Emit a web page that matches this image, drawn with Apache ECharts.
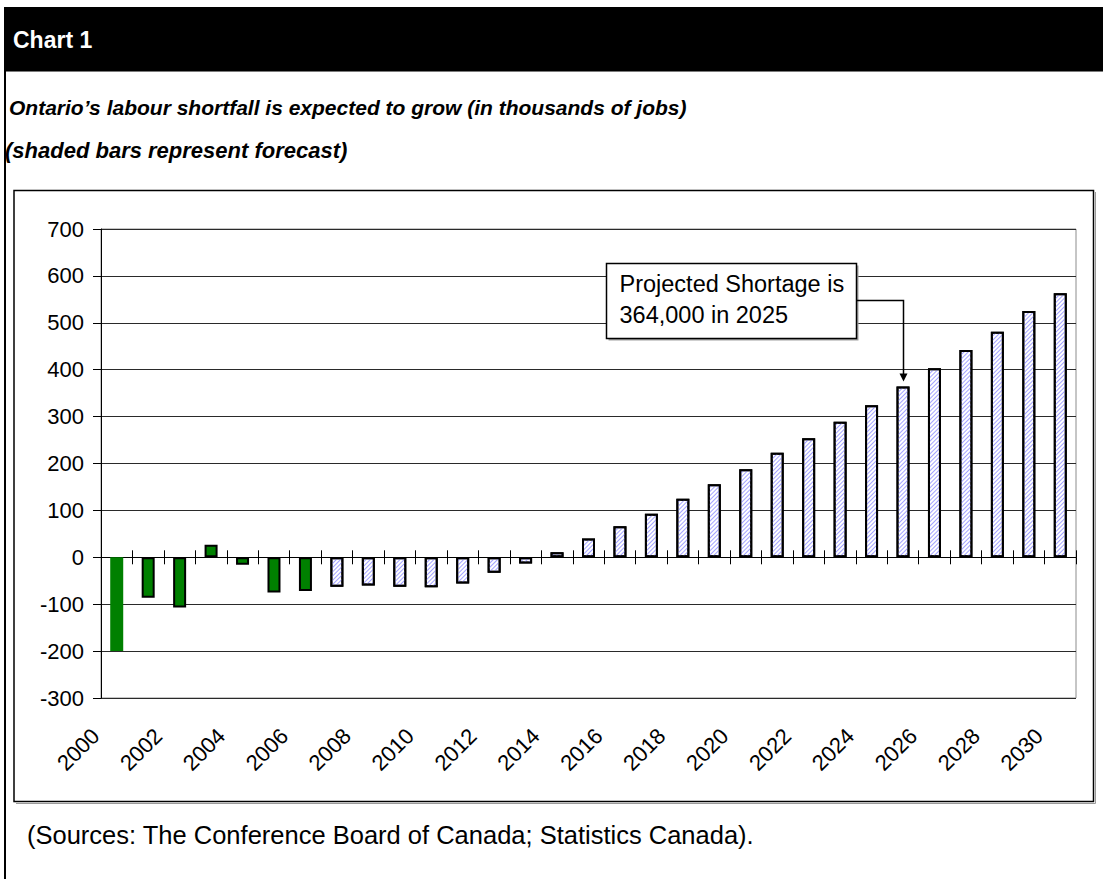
<!DOCTYPE html>
<html>
<head>
<meta charset="utf-8">
<title>Chart 1</title>
<script src="https://cdn.jsdelivr.net/npm/echarts@6/dist/echarts.min.js"></script>
<style>
  html, body { margin: 0; padding: 0; background: #fff; }
  #chart { width: 1103px; height: 879px; }
</style>
</head>
<body>
<div id="chart"></div>
<script>
// Years on the category axis
const years = ['2000','2001','2002','2003','2004','2005','2006','2007','2008','2009','2010',
  '2011','2012','2013','2014','2015','2016','2017','2018','2019','2020',
  '2021','2022','2023','2024','2025','2026','2027','2028','2029','2030'];

// Observed labour shortfall, thousands of jobs (2000-2006)
const actualValues = [-200, -86, -107, 27, -16, -75, -72];

// Forecast labour shortfall, thousands of jobs (2007-2030)
const forecastValues = [-63, -60, -63, -64, -56, -33, -13, 11, 40, 66, 93, 125, 156,
  188, 223, 254, 289, 324, 364, 403, 442, 481, 525, 563];

// Value-axis range
const yTicks = { min: -300, max: 700, step: 100 };

// Callout
const calloutYear = '2025';
const calloutValue = 364;
const calloutLines = ['Projected Shortage is', '364,000 in 2025'];

const FONT = '"Liberation Sans", Arial, Helvetica, sans-serif';

const nActual = actualValues.length;
const actualData = years.map((y, i) => {
  if (i >= nActual) return null;
  // first year drawn as a plain fill without outline
  return i === 0 ? { value: actualValues[i], itemStyle: { borderWidth: 0 } } : actualValues[i];
});
const forecastData = years.map((y, i) => (i >= nActual ? forecastValues[i - nActual] : null));

const chart = echarts.init(document.getElementById('chart'), null, { renderer: 'svg' });

const baseOption = {
  animation: false,
  backgroundColor: '#fff',
  grid: {
    left: 101, top: 229, right: 27, bottom: 181,
    show: true, borderColor: '#8c8c8c', borderWidth: 1, backgroundColor: 'transparent'
  },
  xAxis: [
    { // year labels along the bottom edge
      type: 'category', data: years, position: 'bottom',
      axisLine: { show: false, onZero: false },
      axisTick: { show: false },
      splitLine: { show: false },
      axisLabel: {
        interval: 1, rotate: 45, margin: 13, padding: [0, 30, 0, 0],
        fontSize: 22, color: '#000', fontFamily: FONT
      }
    },
    { // zero line with downward ticks
      type: 'category', data: years, position: 'bottom',
      axisLine: { show: true, onZero: true, onZeroAxisIndex: 0, lineStyle: { color: '#000', width: 1 } },
      axisTick: { show: true, interval: 0, length: 7, lineStyle: { color: '#000', width: 1 } },
      axisLabel: { show: false },
      splitLine: { show: false }
    },
    { // upward ticks on the zero line
      type: 'category', data: years, position: 'top',
      axisLine: { show: true, onZero: true, onZeroAxisIndex: 1, lineStyle: { color: '#000', width: 1 } },
      axisTick: { show: true, interval: 0, length: 7, lineStyle: { color: '#000', width: 1 } },
      axisLabel: { show: false },
      splitLine: { show: false }
    }
  ],
  yAxis: [
    {
      type: 'value', min: yTicks.min, max: yTicks.max, interval: yTicks.step,
      axisLine: { show: true, lineStyle: { color: '#000', width: 1 } },
      axisTick: { show: true, length: 8, lineStyle: { color: '#000', width: 1 } },
      axisLabel: { margin: 17, fontSize: 22, color: '#000', fontFamily: FONT },
      splitLine: { show: true, lineStyle: { color: '#2a2a2a', width: 1 } }
    },
    { // same scale, only used to seat the upward ticks on zero
      type: 'value', min: yTicks.min, max: yTicks.max, interval: yTicks.step,
      axisLine: { show: false }, axisTick: { show: false },
      axisLabel: { show: false }, splitLine: { show: false }
    }
  ],
  series: [
    {
      name: 'Actual', type: 'bar', data: actualData, barWidth: 13, barGap: '-100%',
      itemStyle: { color: '#008000', borderColor: '#000', borderWidth: 2 },
      z: 3
    },
    {
      name: 'Forecast', type: 'bar', data: forecastData, barWidth: 13, barGap: '-100%',
      itemStyle: {
        color: '#ffffff', borderColor: '#000', borderWidth: 2,
        decal: {
          symbol: 'rect', symbolSize: 1, color: '#a2a2ff',
          dashArrayX: [1, 0], dashArrayY: [1, 2], rotation: -Math.PI / 4
        }
      },
      z: 3
    }
  ]
};

chart.setOption(baseOption);

// Frame, headings and callout
const tip = chart.convertToPixel({ xAxisIndex: 0, yAxisIndex: 0 }, [calloutYear, calloutValue]);
const box = { x: 606.5, y: 263.5, w: 250, h: 75 };
const connY = 300.5;
const arrowX = Math.round(tip[0]) + 0.5;
const arrowTip = tip[1] - 5;

chart.setOption({
  graphic: [
    { type: 'rect', silent: true, z: -10, shape: { x: 4, y: 7, width: 1099, height: 64 }, style: { fill: '#000' } },
    { type: 'line', silent: true, z: -9, shape: { x1: 4, y1: 71.5, x2: 1103, y2: 71.5 }, style: { stroke: '#7a7a7a', lineWidth: 1 } },
    { type: 'line', silent: true, z: -9, shape: { x1: 5, y1: 71, x2: 5, y2: 879 }, style: { stroke: '#000', lineWidth: 2 } },
    { type: 'text', silent: true, style: { text: 'Chart 1', x: 13, y: 40, fill: '#fff', font: 'bold 23px ' + FONT, verticalAlign: 'middle' } },
    { type: 'text', silent: true, style: { text: 'Ontario’s labour shortfall is expected to grow (in thousands of jobs)', x: 9, y: 107, fill: '#000', font: 'italic bold 21px ' + FONT, verticalAlign: 'middle' } },
    { type: 'text', silent: true, style: { text: '(shaded bars represent forecast)', x: 5, y: 150, fill: '#000', font: 'italic bold 22px ' + FONT, verticalAlign: 'middle' } },
    // chart box with a soft shadow edge
    { type: 'polyline', silent: true, z: -9, shape: { points: [[1095.5, 192], [1095.5, 803.5], [16, 803.5]] }, style: { stroke: '#9a9a9a', lineWidth: 1, fill: null } },
    { type: 'rect', silent: true, z: -8, shape: { x: 14, y: 190.5, width: 1079.5, height: 611 }, style: { fill: null, stroke: '#000', lineWidth: 1.5 } },
    { type: 'text', silent: true, style: { text: '(Sources: The Conference Board of Canada; Statistics Canada).', x: 27, y: 835, fill: '#000', font: '25.5px ' + FONT, verticalAlign: 'middle' } },
    // callout
    { type: 'rect', silent: true, z: 20, shape: { x: box.x + 2, y: box.y + 2, width: box.w, height: box.h }, style: { fill: '#a0a0a0' } },
    { type: 'rect', silent: true, z: 21, shape: { x: box.x, y: box.y, width: box.w, height: box.h }, style: { fill: '#fff', stroke: '#000', lineWidth: 1.5 } },
    { type: 'text', silent: true, z: 22, style: { text: calloutLines.join('\n'), x: box.x + 13, y: box.y + 5, fill: '#000', font: '23.5px ' + FONT, lineHeight: 31, verticalAlign: 'top' } },
    { type: 'polyline', silent: true, z: 20, shape: { points: [[box.x + box.w, connY], [arrowX, connY], [arrowX, arrowTip - 6]] }, style: { stroke: '#000', lineWidth: 1.5, fill: null } },
    { type: 'polygon', silent: true, z: 20, shape: { points: [[arrowX - 4, arrowTip - 8], [arrowX + 4, arrowTip - 8], [arrowX, arrowTip]] }, style: { fill: '#000' } }
  ]
});
</script>
</body>
</html>
